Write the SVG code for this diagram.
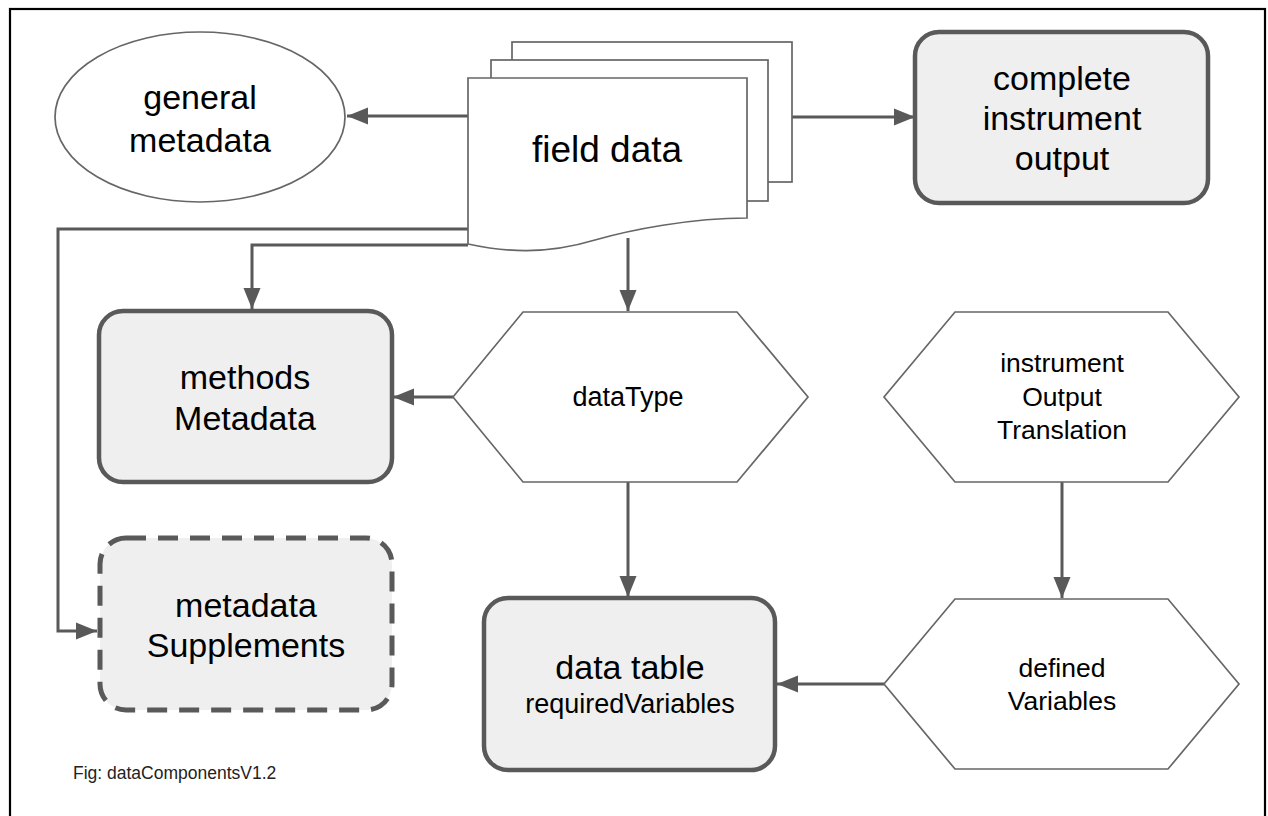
<svg xmlns="http://www.w3.org/2000/svg" width="1268" height="816" viewBox="0 0 1268 816">
<defs>
<style>
.txt{font-family:"Liberation Sans",Arial,sans-serif;fill:#000;text-anchor:middle}
.big{font-size:34px}
.mid{font-size:26.5px}
.thin{fill:#fff;stroke:#666;stroke-width:1.7}
.box{fill:#efefef;stroke:#595959;stroke-width:4.5}
.conn{fill:none;stroke:#595959;stroke-width:3}
</style>
<marker id="arr" markerUnits="userSpaceOnUse" markerWidth="21" markerHeight="18" refX="21" refY="9" orient="auto">
<path d="M0,0.5 L21,9 L0,17.5 Z" fill="#595959"/>
</marker>
</defs>
<rect width="1268" height="816" fill="#fff"/>
<rect x="10" y="9" width="1255" height="830" fill="none" stroke="#000" stroke-width="2.2"/>

<g id="connectors">
<path class="conn" d="M468,116 H347" marker-end="url(#arr)"/>
<path class="conn" d="M792,117 H915" marker-end="url(#arr)"/>
<path class="conn" d="M468,229 H58 V631 H97" marker-end="url(#arr)"/>
<path class="conn" d="M468,245 H252 V309" marker-end="url(#arr)"/>
<path class="conn" d="M628,238 V311" marker-end="url(#arr)"/>
<path class="conn" d="M453,397 H393" marker-end="url(#arr)"/>
<path class="conn" d="M628,482 V597" marker-end="url(#arr)"/>
<path class="conn" d="M1062,482 V598" marker-end="url(#arr)"/>
<path class="conn" d="M884,684 H777" marker-end="url(#arr)"/>
</g>

<g id="general-metadata">
<ellipse class="thin" cx="200" cy="117" rx="145" ry="85"/>
<text class="txt big" x="200" y="109">general</text>
<text class="txt big" x="200" y="152">metadata</text>
</g>

<g id="field-data">
<rect class="thin" x="512" y="42" width="280" height="140"/>
<rect class="thin" x="491" y="60" width="277" height="141"/>
<path class="thin" d="M468,78 H747 V218 C690,218 630,230 595,240 C545,255 505,252 468,244 Z"/>
<text class="txt" x="607" y="162" font-size="37">field data</text>
</g>

<g id="complete-instrument-output">
<rect class="box" x="915" y="32" width="293" height="171" rx="24"/>
<text class="txt big" x="1062" y="90">complete</text>
<text class="txt big" x="1062" y="130">instrument</text>
<text class="txt big" x="1062" y="170">output</text>
</g>

<g id="methods-metadata">
<rect class="box" x="99" y="311" width="293" height="171" rx="24"/>
<text class="txt big" x="245" y="389">methods</text>
<text class="txt big" x="245" y="430">Metadata</text>
</g>

<g id="dataType">
<polygon class="thin" points="523,312 737,312 808,397 737,482 523,482 453,397"/>
<text class="txt" x="628" y="406" font-size="27">dataType</text>
</g>

<g id="instrument-output-translation">
<polygon class="thin" points="955,312 1168,312 1239,397 1168,482 955,482 884,397"/>
<text class="txt mid" x="1062" y="372">instrument</text>
<text class="txt mid" x="1062" y="406">Output</text>
<text class="txt mid" x="1062" y="439">Translation</text>
</g>

<g id="metadata-supplements">
<rect x="100" y="538" width="292" height="172" rx="26" fill="#efefef" stroke="#595959" stroke-width="5" stroke-dasharray="20,12"/>
<text class="txt big" x="246" y="617">metadata</text>
<text class="txt big" x="246" y="657">Supplements</text>
</g>

<g id="data-table">
<rect class="box" x="484" y="598" width="291" height="172" rx="24"/>
<text class="txt big" x="630" y="679">data table</text>
<text class="txt" x="630" y="713" font-size="27">requiredVariables</text>
</g>

<g id="defined-variables">
<polygon class="thin" points="955,599 1168,599 1239,684 1168,769 955,769 884,684"/>
<text class="txt mid" x="1062" y="677">defined</text>
<text class="txt mid" x="1062" y="710">Variables</text>
</g>

<g id="caption">
<text x="73" y="779" font-family="Liberation Sans, Arial, sans-serif" font-size="17.5" fill="#222">Fig: dataComponentsV1.2</text>
</g>
</svg>
